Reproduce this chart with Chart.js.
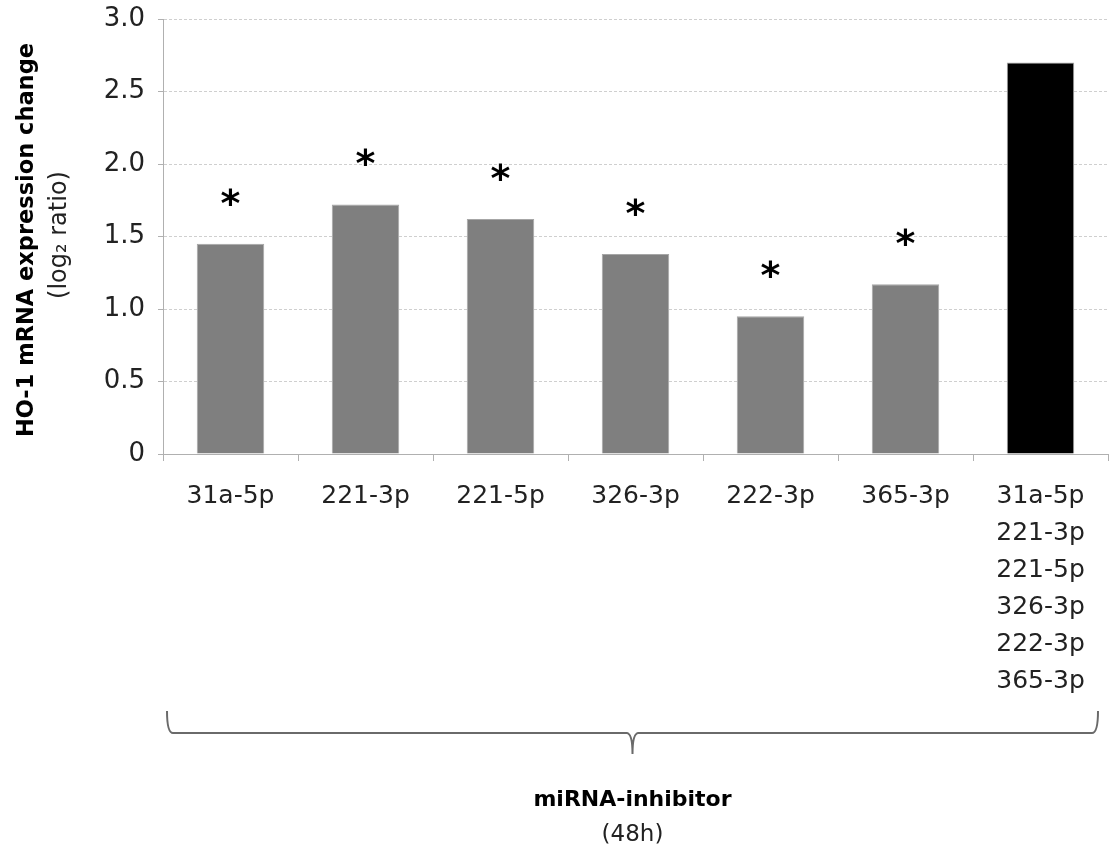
<!DOCTYPE html>
<html>
<head>
<meta charset="utf-8">
<script src="https://cdn.jsdelivr.net/npm/chart.js@4"></script>
<style>
  html, body { margin: 0; padding: 0; background: #ffffff; }
  #wrap { width: 1109px; height: 849px; position: relative; }
</style>
</head>
<body>
<div id="wrap"><canvas id="chart" width="1109" height="849"></canvas></div>
<script>
// HO-1 mRNA expression after miRNA inhibition (48h)
const categories = [
  '31a-5p', '221-3p', '221-5p', '326-3p', '222-3p', '365-3p',
  ['31a-5p', '221-3p', '221-5p', '326-3p', '222-3p', '365-3p']
];
const log2Ratio = [1.45, 1.72, 1.62, 1.38, 0.95, 1.17, 2.70];
const significant = [true, true, true, true, true, true, false];
const barColors = ['#7f7f7f', '#7f7f7f', '#7f7f7f', '#7f7f7f', '#7f7f7f', '#7f7f7f', '#000000'];
const yTicks = [0, 0.5, 1.0, 1.5, 2.0, 2.5, 3.0];

const FONT = 'DejaVu Sans';

// Asterisks over significant bars, y-axis title, and the grouping brace with its caption
const annotations = {
  id: 'annotations',
  afterDatasetsDraw(chart) {
    const ctx = chart.ctx;
    const meta = chart.getDatasetMeta(0);
    ctx.save();
    ctx.fillStyle = '#000';
    ctx.font = 'bold 38px ' + FONT;
    ctx.textAlign = 'center';
    ctx.textBaseline = 'middle';
    meta.data.forEach((bar, i) => {
      if (significant[i]) ctx.fillText('*', bar.x, bar.y - 38);
    });
    ctx.restore();
  },
  afterDraw(chart) {
    const ctx = chart.ctx;
    const area = chart.chartArea;
    ctx.save();

    // rotated y-axis title
    const midY = 240;
    ctx.translate(27, midY);
    ctx.rotate(-Math.PI / 2);
    ctx.textAlign = 'center';
    ctx.textBaseline = 'middle';
    ctx.fillStyle = '#000';
    ctx.font = 'bold 22.5px ' + FONT;
    ctx.fillText('HO-1 mRNA expression change', 0, 0);
    ctx.font = '24px ' + FONT;
    ctx.fillStyle = '#222';
    ctx.fillText('(log\u2082 ratio)', 5, 33);
    ctx.setTransform(1, 0, 0, 1, 0, 0);

    // brace spanning all groups
    const x0 = area.left + 4, x1 = area.right - 10;
    const xm = (x0 + x1) / 2;
    const yTop = 711, yLine = 733, yTip = 754;
    ctx.strokeStyle = '#6a6a6a';
    ctx.lineWidth = 2;
    ctx.beginPath();
    ctx.moveTo(x0, yTop);
    ctx.quadraticCurveTo(x0, yLine, x0 + 6, yLine);
    ctx.lineTo(xm - 6, yLine);
    ctx.quadraticCurveTo(xm, yLine, xm, yTip);
    ctx.moveTo(xm, yTip);
    ctx.quadraticCurveTo(xm, yLine, xm + 6, yLine);
    ctx.lineTo(x1 - 6, yLine);
    ctx.quadraticCurveTo(x1, yLine, x1, yTop);
    ctx.stroke();

    ctx.fillStyle = '#000';
    ctx.textAlign = 'center';
    ctx.textBaseline = 'middle';
    ctx.font = 'bold 22px ' + FONT;
    ctx.fillText('miRNA-inhibitor', xm, 800);
    ctx.fillStyle = '#222';
    ctx.font = '23px ' + FONT;
    ctx.fillText('(48h)', xm, 835);
    ctx.restore();
  }
};

new Chart(document.getElementById('chart'), {
  type: 'bar',
  data: {
    labels: categories,
    datasets: [{
      data: log2Ratio,
      backgroundColor: barColors,
      borderColor: '#a6a6a6',
      borderWidth: 1,
      barPercentage: 0.5,
      categoryPercentage: 1.0
    }]
  },
  options: {
    responsive: false,
    animation: false,
    events: [],
    layout: { padding: { top: 19, right: 1, left: 0, bottom: 0 } },
    plugins: {
      legend: { display: false },
      tooltip: { enabled: false }
    },
    scales: {
      x: {
        afterFit(scale) {
          scale.height = 395;
          scale.paddingLeft = 0;
          scale.paddingRight = 0;
        },
        grid: {
          offset: true,
          drawOnChartArea: false,
          drawTicks: true,
          tickLength: 7,
          color: '#b0b0b0'
        },
        border: { color: '#b0b0b0', width: 1 },
        ticks: {
          color: '#222',
          font: { family: FONT, size: 25, lineHeight: 1.48 },
          padding: 17,
          maxRotation: 0,
          autoSkip: false
        }
      },
      y: {
        min: 0,
        max: 3.0,
        afterFit(scale) {
          scale.width = 163;
          scale.paddingTop = 0;
          scale.paddingBottom = 0;
        },
        afterBuildTicks(scale) { scale.ticks = yTicks.map(v => ({ value: v })); },
        grid: {
          color: '#cfcfcf',
          tickColor: '#b0b0b0',
          tickLength: 5,
          drawTicks: true,
          tickBorderDash: []
        },
        border: { color: '#b0b0b0', width: 1, dash: [3, 2] },
        ticks: {
          color: '#222',
          font: { family: FONT, size: 26 },
          padding: 13,
          callback(v) { return v === 0 ? '0' : v.toFixed(1); }
        }
      }
    }
  },
  plugins: [annotations]
});
</script>
</body>
</html>
